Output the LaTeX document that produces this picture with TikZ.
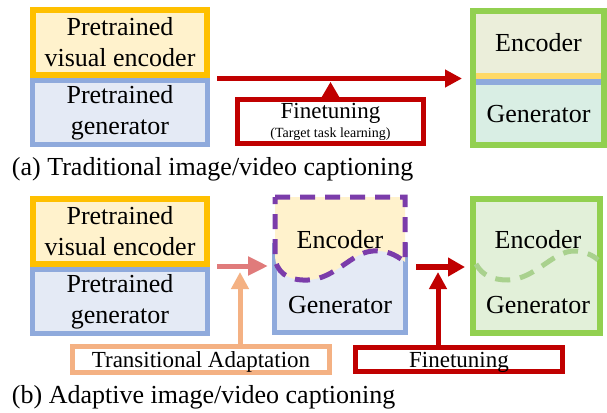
\documentclass[tikz,border=0pt]{standalone}
\usepackage{fontspec}
\setmainfont{Liberation Serif}
\usetikzlibrary{arrows.meta,calc}
\definecolor{orgB}{HTML}{FFC000}
\definecolor{yelF}{HTML}{FFF2CC}
\definecolor{bluB}{HTML}{8FAADC}
\definecolor{bluF}{HTML}{E4EAF5}
\definecolor{redC}{HTML}{C00000}
\definecolor{grnB}{HTML}{92D050}
\definecolor{grnF}{HTML}{E2F0D9}
\definecolor{encF}{HTML}{EBEEDA}
\definecolor{genF}{HTML}{D9EEE4}
\definecolor{yelS}{HTML}{FFD966}
\definecolor{pinkA}{HTML}{E07B7B}
\definecolor{orgL}{HTML}{F4B183}
\definecolor{purp}{HTML}{7B3CAA}
\definecolor{grnW}{HTML}{A9D18E}
\begin{document}
\begin{tikzpicture}[x=1pt,y=-1pt,
  every node/.style={inner sep=0pt, outer sep=0pt},
  big/.style={font=\fontsize{26}{31}\selectfont},
  mid/.style={font=\fontsize{23}{23}\selectfont},
  pbox/.style={big, align=center, rectangle},
  onel/.style={mid, text height=17pt, text depth=2pt},
  dashw/.style={line width=5pt, dash pattern=on 15pt off 10pt},
]
\fill[white] (0,0) rectangle (607,412);
\useasboundingbox (0,0) rectangle (607,412);

% ---------------- (a) ----------------
\node[pbox, draw=bluB, fill=bluF, line width=5pt, minimum width=175pt, minimum height=64pt] (gena) at (120,112.5) {Pretrained\\generator};
\node[pbox, draw=orgB, fill=yelF, line width=6pt, minimum width=174pt, minimum height=65pt] (enca) at (120,42.5) {Pretrained\\visual encoder};

\fill[encF] (476,14) rectangle (601,73);
\fill[yelS] (476,73) rectangle (601,79);
\fill[bluB] (476,79) rectangle (601,85);
\fill[genF] (476,85) rectangle (601,142);
\node[draw=grnB, line width=6pt, minimum width=131pt, minimum height=134pt] (ga) at (538.5,78) {};
\node[big, anchor=base] (gaenc) at (538.5,52) {Encoder};
\node[big, anchor=base] (gagen) at (538.5,122) {Generator};

\coordinate (astart) at (217,78.5);
\draw[redC, line width=5.5pt, -{Triangle[length=17pt,width=17pt]}, shorten >=11pt] (astart) -- (astart -| ga.west);

\node[draw=redC, line width=4.5pt, minimum width=186pt, minimum height=44pt, align=center, font=\fontsize{14}{19}\selectfont] (fta) at (330.5,121.5) {{\fontsize{23}{19}\selectfont Finetuning}\\(Target task learning)};
\draw[redC, line width=2pt, -{Triangle[length=15pt,width=17pt]}, shorten >=3.5pt] (fta.north) -- (fta.north |- astart);

\node[big, anchor=base west] (capa) at (12,175.5) {(a) Traditional image/video captioning};

% ---------------- (b) ----------------
\node[pbox, draw=bluB, fill=bluF, line width=5pt, minimum width=175pt, minimum height=64pt] (genb) at (120,301.5) {Pretrained\\generator};
\node[pbox, draw=orgB, fill=yelF, line width=6pt, minimum width=174pt, minimum height=65pt] (encb) at (120,231.5) {Pretrained\\visual encoder};

\node[draw=bluB, fill=bluF, line width=5pt, minimum width=131pt, minimum height=87pt] (midb) at (340,289) {};
\filldraw[fill=yelF, draw=purp, dashw] (275,197) -- (405,197) -- (405,262)
  .. controls (395,254) and (385,250) .. (373,251)
  .. controls (352,252) and (335,279) .. (308,280)
  .. controls (288,281) and (275,272) .. (275,255) -- cycle;
\node[big, anchor=base] (mbenc) at (340,248) {Encoder};
\node[big, anchor=base] (mbgen) at (340,313) {Generator};

\node[draw=grnB, fill=grnF, line width=6pt, minimum width=127pt, minimum height=134pt] (gb) at (536.5,266) {};
\draw[grnW, dashw] (476,264) .. controls (482,275) and (492,280) .. (508,280)
  .. controls (535,279) and (552,252) .. (573,251)
  .. controls (585,251) and (594,256) .. (598,260);
\node[big, anchor=base] (gbenc) at (538,248) {Encoder};
\node[big, anchor=base] (gbgen) at (538,313) {Generator};

\coordinate (pstart) at (217,266);
\draw[pinkA, line width=5pt, -{Triangle[length=20pt,width=18pt]}, shorten >=6.5pt] (pstart) -- (pstart -| midb.west);

\node[draw=orgL, line width=5pt, minimum width=257pt, minimum height=26pt, onel] (tr) at (201,359.5) {Transitional Adaptation};
\coordinate (pjoin) at (240,266);
\draw[orgL, line width=5pt, -{Triangle[length=17pt,width=17pt]}, shorten >=6pt] (tr.north -| pjoin) -- (pjoin);

\coordinate (rstart) at (416,267);
\draw[redC, line width=5.5pt, -{Triangle[length=17pt,width=18pt]}, shorten >=8pt] (rstart) -- (rstart -| gb.west);

\node[draw=redC, line width=4.5pt, minimum width=207pt, minimum height=24pt, onel] (ftb) at (459,359.5) {Finetuning};
\coordinate (rjoin) at (438,267);
\draw[redC, line width=5pt, -{Triangle[length=17pt,width=17pt]}, shorten >=5pt] (ftb.north -| rjoin) -- (rjoin);

\node[big, anchor=base west] (capb) at (12,403) {(b) Adaptive image/video captioning};
\end{tikzpicture}
\end{document}
